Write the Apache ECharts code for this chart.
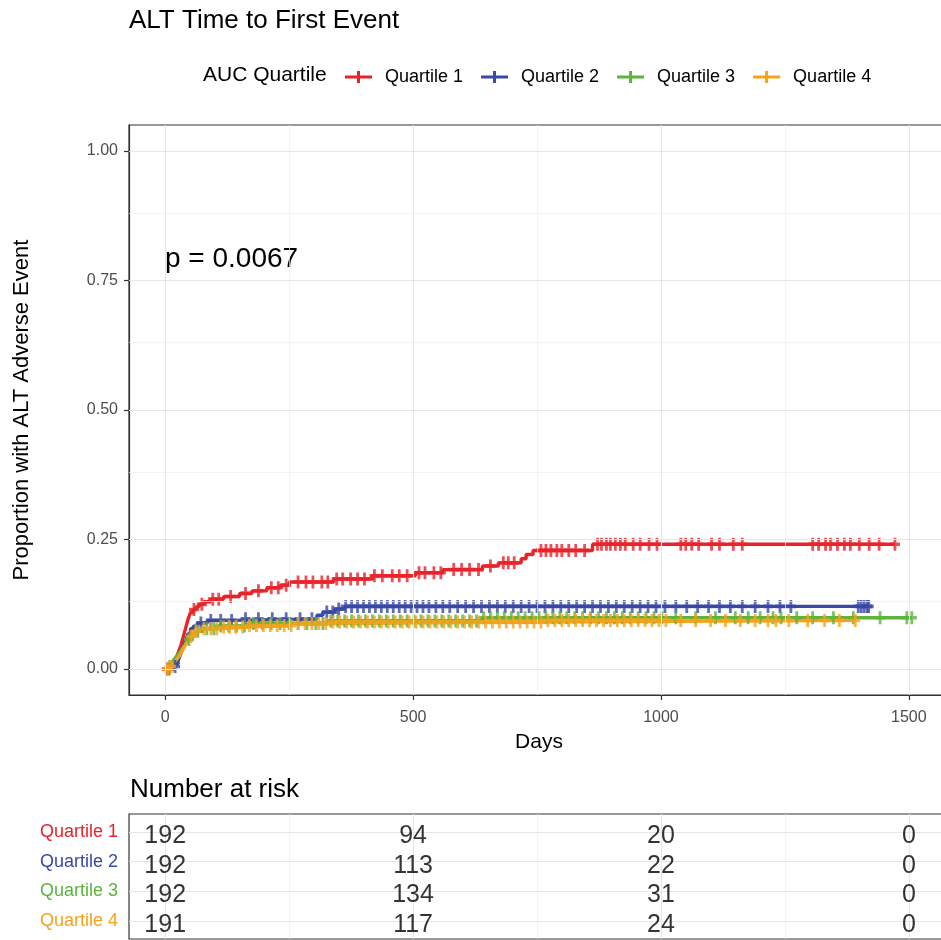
<!DOCTYPE html>
<html>
<head>
<meta charset="utf-8">
<script src="https://cdn.jsdelivr.net/npm/echarts@6/dist/echarts.min.js"></script>
<style>
  html, body { margin: 0; padding: 0; background: #ffffff; }
  #chart { width: 941px; height: 940px; }
</style>
</head>
<body>
<div id="chart"></div>
<script>
// ---- data ----
const groupNames = ['Quartile 1', 'Quartile 2', 'Quartile 3', 'Quartile 4'];
const groupColors = ['#E8232A', '#3949A6', '#5CB43C', '#F7A21B'];

// cumulative event curve steps: [day, proportion with event]
const stepsQ1 = [[0,0],[10,0.005],[16,0.010],[20,0.016],[24,0.026],[28,0.036],[32,0.047],[35,0.057],[38,0.068],[41,0.078],[44,0.089],[47,0.099],[51,0.109],[56,0.115],[62,0.120],[68,0.125],[78,0.130],[92,0.135],[118,0.140],[150,0.146],[175,0.151],[205,0.157],[232,0.162],[250,0.168],[340,0.174],[418,0.180],[505,0.186],[560,0.192],[640,0.199],[672,0.205],[718,0.213],[728,0.221],[742,0.229],[862,0.241]];
const stepsQ2 = [[0,0],[14,0.005],[21,0.010],[26,0.016],[30,0.026],[34,0.036],[38,0.047],[42,0.057],[46,0.068],[51,0.078],[57,0.083],[65,0.089],[85,0.094],[140,0.097],[306,0.104],[318,0.110],[342,0.116],[362,0.121]];
const stepsQ3 = [[0,0],[7,0.005],[12,0.010],[16,0.016],[20,0.021],[24,0.026],[28,0.031],[32,0.036],[36,0.042],[40,0.047],[44,0.052],[48,0.057],[53,0.063],[58,0.068],[64,0.073],[76,0.078],[102,0.083],[168,0.088],[330,0.093],[640,0.099]];
const stepsQ4 = [[0,0],[11,0.005],[17,0.010],[21,0.016],[25,0.021],[29,0.026],[32,0.031],[35,0.037],[38,0.042],[41,0.047],[44,0.052],[47,0.058],[51,0.063],[56,0.068],[62,0.073],[71,0.078],[112,0.081],[165,0.084],[255,0.088],[335,0.091],[760,0.094]];

// censoring times (days)
const censorQ1 = [3,8,58,74,96,108,132,162,188,214,228,244,268,284,298,316,328,346,358,374,388,402,422,438,458,472,488,512,524,542,556,582,598,614,632,656,682,692,704,758,768,778,790,800,814,828,846,872,880,890,898,908,918,928,944,958,976,992,1040,1050,1062,1076,1102,1118,1146,1164,1306,1318,1332,1342,1356,1370,1382,1400,1420,1440,1472];
const censorQ2 = [20,72,92,112,134,162,188,216,244,272,296,326,338,350,364,376,388,400,412,424,436,448,460,472,484,496,508,520,532,546,560,574,590,606,622,638,654,670,686,702,718,734,750,766,782,798,814,830,846,862,878,894,910,926,942,958,974,990,1008,1030,1052,1074,1096,1118,1140,1164,1190,1216,1240,1262,1398,1404,1410,1416,1419];
const censorQ3 = [9,48,66,84,98,112,128,144,160,178,196,214,232,250,268,286,304,318,334,348,362,376,390,404,418,432,446,460,474,488,502,516,530,544,558,572,586,600,614,628,642,656,670,684,698,712,726,740,754,768,782,796,810,826,842,858,874,890,906,922,938,954,970,986,1002,1030,1070,1110,1150,1176,1200,1226,1242,1274,1306,1348,1388,1442,1496,1506];
const censorQ4 = [5,12,52,62,78,92,104,118,130,142,156,170,184,198,212,226,240,254,268,282,296,310,324,338,352,366,380,394,408,422,436,450,464,478,492,506,520,534,548,562,576,590,604,618,632,646,660,674,688,702,716,730,744,758,772,786,800,814,828,842,856,870,884,898,912,926,940,954,968,982,996,1010,1040,1070,1100,1130,1160,1190,1216,1232,1258,1296,1330,1360,1392];

// number at risk table
const riskTimes = [0, 500, 1000, 1500];
const riskQ1 = [192, 94, 20, 0];
const riskQ2 = [192, 113, 22, 0];
const riskQ3 = [192, 134, 31, 0];
const riskQ4 = [191, 117, 24, 0];

// axis ticks
const xTicks = [0, 500, 1000, 1500];
const xMinorTicks = [250, 750, 1250];
const yTicks = [0, 0.25, 0.5, 0.75, 1];
const yMinorTicks = [0.125, 0.375, 0.625, 0.875];

const pValueText = 'p = 0.0067';

// ---- build ----
const allSteps = [stepsQ1, stepsQ2, stepsQ3, stepsQ4];
const allCensors = [censorQ1, censorQ2, censorQ3, censorQ4];
const allRisk = [riskQ1, riskQ2, riskQ3, riskQ4];

function valueAt(steps, t) {
  let v = 0;
  for (const [d, p] of steps) { if (d <= t) v = p; else break; }
  return v;
}

const FONT = '"Liberation Sans", Arial, sans-serif';
const X_MIN = -73, X_MAX = 1581;
const GRID_LEFT = 129, GRID_WIDTH = 820;
const crossPath = 'path://M3.6,0 L6.4,0 L6.4,10 L3.6,10 Z M0,3.6 L10,3.6 L10,6.4 L0,6.4 Z';
const keyPath = 'path://M0,4.6 L27,4.6 L27,7.6 L0,7.6 Z M12,0 L15,0 L15,12 L12,12 Z';

const gridMajor = { color: '#e6e6e6', width: 1.1, type: 'solid' };
const gridMinor = { color: '#eeeeee', width: 0.7, type: 'solid' };

const series = [];

// panel grid lines
series.push({
  type: 'line', xAxisIndex: 0, yAxisIndex: 0, data: [], silent: true, z: 1,
  markLine: {
    silent: true, symbol: ['none', 'none'], label: { show: false }, animation: false,
    data: [].concat(
      xMinorTicks.map(v => ({ xAxis: v, lineStyle: gridMinor })),
      yMinorTicks.map(v => ({ yAxis: v, lineStyle: gridMinor })),
      xTicks.map(v => ({ xAxis: v, lineStyle: gridMajor })),
      yTicks.map(v => ({ yAxis: v, lineStyle: gridMajor }))
    )
  }
});
// table grid lines
series.push({
  type: 'line', xAxisIndex: 1, yAxisIndex: 1, data: [], silent: true, z: 1,
  markLine: {
    silent: true, symbol: ['none', 'none'], label: { show: false }, animation: false,
    data: [].concat(
      xMinorTicks.map(v => ({ xAxis: v, lineStyle: gridMinor })),
      xTicks.map(v => ({ xAxis: v, lineStyle: gridMajor })),
      [1, 2, 3, 4].map(v => ({ yAxis: v, lineStyle: gridMajor }))
    )
  }
});

groupNames.forEach((name, i) => {
  const steps = allSteps[i];
  const cens = allCensors[i];
  const lastDay = Math.max(cens[cens.length - 1], steps[steps.length - 1][0]);
  const lineData = steps.concat([[lastDay, steps[steps.length - 1][1]]]);
  series.push({
    name, type: 'line', step: 'end', xAxisIndex: 0, yAxisIndex: 0,
    data: lineData, showSymbol: false, symbol: 'none', z: 3,
    lineStyle: { color: groupColors[i], width: 3.4 },
    itemStyle: { color: groupColors[i] }
  });
  series.push({
    name, type: 'scatter', xAxisIndex: 0, yAxisIndex: 0, z: 4,
    symbol: crossPath, symbolSize: [10, 13],
    itemStyle: { color: groupColors[i] },
    data: cens.map(t => [t, valueAt(steps, t)])
  });
  // number-at-risk row
  series.push({
    type: 'scatter', xAxisIndex: 1, yAxisIndex: 1, z: 5, silent: true,
    symbolSize: 1, itemStyle: { color: 'rgba(0,0,0,0)' },
    label: {
      show: true, position: 'inside', offset: [0, 4], color: '#000', fontSize: 25, fontFamily: FONT,
      formatter: p => String(p.value[2])
    },
    data: riskTimes.map((t, j) => [t, i + 1, allRisk[i][j]])
  });
});

const axisLabelStyle = { color: '#4d4d4d', fontSize: 16, fontFamily: FONT };
const tickStyle = { show: true, inside: false, length: 5, lineStyle: { color: '#333', width: 1.2 } };
const edgeLine = { show: true, onZero: false, lineStyle: { color: '#333', width: 1.2 } };

const option = {
  animation: false,
  backgroundColor: '#ffffff',
  title: {
    text: 'ALT Time to First Event', left: 129, top: 8, padding: 0,
    textStyle: { fontFamily: FONT, fontSize: 26, fontWeight: 'normal', color: '#000' }
  },
  legend: {
    data: groupNames, left: 345, top: 68, padding: 0, orient: 'horizontal',
    icon: keyPath, itemWidth: 27, itemHeight: 12, itemGap: 18,
    textStyle: { fontFamily: FONT, fontSize: 18, color: '#000', padding: [0, 0, 0, 8] },
    selectedMode: false
  },
  grid: [
    { left: GRID_LEFT, top: 125, width: GRID_WIDTH, height: 570, show: true,
      borderColor: '#333', borderWidth: 1.2, backgroundColor: '#fff', outerBoundsMode: 'none' },
    { left: GRID_LEFT, top: 814, width: GRID_WIDTH, height: 125, show: true,
      borderColor: '#333', borderWidth: 1.2, backgroundColor: '#fff', outerBoundsMode: 'none' }
  ],
  xAxis: [
    {
      gridIndex: 0, type: 'value', min: X_MIN, max: X_MAX,
      name: 'Days', nameLocation: 'middle', nameGap: 37,
      nameTextStyle: { fontFamily: FONT, fontSize: 21, color: '#000' },
      axisLine: edgeLine,
      axisTick: Object.assign({ customValues: xTicks }, tickStyle),
      axisLabel: Object.assign({ customValues: xTicks, margin: 15,
        formatter: v => String(v) }, axisLabelStyle),
      splitLine: { show: false }
    },
    {
      gridIndex: 1, type: 'value', min: X_MIN, max: X_MAX,
      axisLine: { show: false }, axisTick: { show: false },
      axisLabel: { show: false }, splitLine: { show: false }
    }
  ],
  yAxis: [
    {
      gridIndex: 0, type: 'value', min: -0.05, max: 1.05,
      name: 'Proportion with ALT Adverse Event', nameLocation: 'middle', nameGap: 96,
      nameTextStyle: { fontFamily: FONT, fontSize: 22, color: '#000' },
      axisLine: edgeLine,
      axisTick: Object.assign({ customValues: yTicks }, tickStyle),
      axisLabel: Object.assign({ customValues: yTicks, margin: 11,
        formatter: v => Number(v).toFixed(2) }, axisLabelStyle),
      splitLine: { show: false }
    },
    {
      gridIndex: 1, type: 'value', min: 0.4, max: 4.6, inverse: true,
      axisLine: { show: false }, axisTick: { show: false },
      axisLabel: {
        customValues: [1, 2, 3, 4], margin: 11, fontSize: 18, fontFamily: FONT,
        formatter: v => groupNames[Math.round(v) - 1],
        color: v => groupColors[Math.round(Number(v)) - 1]
      },
      splitLine: { show: false }
    }
  ],
  graphic: [
    { type: 'text', left: 203, top: 65, style: { text: 'AUC Quartile', font: '21px ' + FONT, fill: '#000' } },
    { type: 'text', left: 165, top: 245, style: { text: pValueText, font: '28px ' + FONT, fill: '#000' } },
    { type: 'text', left: 130, top: 777, style: { text: 'Number at risk', font: '26px ' + FONT, fill: '#000' } }
  ],
  series
};

const chart = echarts.init(document.getElementById('chart'), null, { renderer: 'canvas' });
chart.setOption(option);
</script>
</body>
</html>
